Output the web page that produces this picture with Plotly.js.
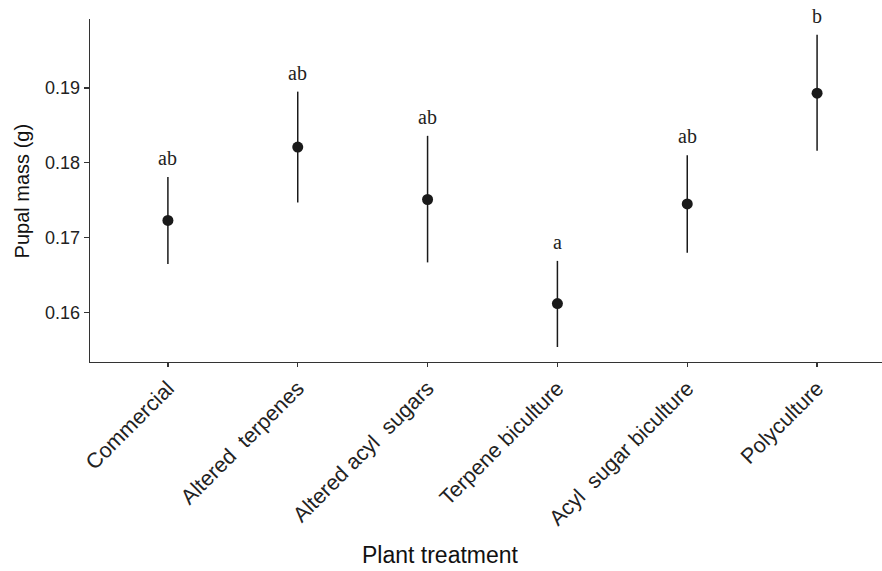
<!DOCTYPE html>
<html>
<head>
<meta charset="utf-8">
<script src="https://cdn.plot.ly/plotly-3.0.1.min.js"></script>
<style>html,body{margin:0;padding:0;background:#fff;}#chart{width:882px;height:571px;}</style>
</head>
<body>
<div id="chart"></div>
<script>
const categories = ["Commercial", "Altered  terpenes", "Altered acyl  sugars", "Terpene biculture", "Acyl  sugar biculture", "Polyculture"];
const means = [0.1723, 0.1821, 0.1751, 0.1612, 0.1745, 0.1893];
const upper = [0.1781, 0.1895, 0.1836, 0.1669, 0.1810, 0.1971];
const lower = [0.1665, 0.1747, 0.1667, 0.1554, 0.1680, 0.1816];
const letters = ["ab", "ab", "ab", "a", "ab", "b"];
const yTicks = [0.16, 0.17, 0.18, 0.19];
const xTitle = "Plant treatment";
const yTitle = "Pupal mass (g)";

const idx = categories.map((c, i) => i);
const trace = {
  type: "scatter",
  mode: "markers",
  x: idx,
  y: means,
  marker: {color: "#1a1a1a", size: 11},
  error_y: {
    type: "data",
    symmetric: false,
    array: upper.map((u, i) => u - means[i]),
    arrayminus: lower.map((l, i) => means[i] - l),
    color: "#1a1a1a",
    thickness: 1.5,
    width: 0
  },
  hoverinfo: "skip"
};

const annotations = letters.map((t, i) => ({
  x: idx[i], y: upper[i], xref: "x", yref: "y",
  text: t, showarrow: false, yanchor: "bottom", yshift: 6,
  font: {family: "Liberation Serif, Times New Roman, serif", size: 20, color: "#222"}
}));
annotations.push({
  x: 0.442, y: -0.52, xref: "paper", yref: "paper",
  text: xTitle, showarrow: false, xanchor: "center", yanchor: "top",
  font: {family: "Liberation Sans, Arial, sans-serif", size: 23, color: "#111"}
});
annotations.push({
  x: -0.086, y: 0.5, xref: "paper", yref: "paper",
  text: yTitle, showarrow: false, xanchor: "center", yanchor: "middle", textangle: -90,
  font: {family: "Liberation Sans, Arial, sans-serif", size: 20, color: "#111"}
});

const layout = {
  width: 882, height: 571,
  margin: {l: 90, r: 0, t: 19, b: 209, pad: 0},
  paper_bgcolor: "#fff", plot_bgcolor: "#fff",
  showlegend: false,
  xaxis: {
    range: [-0.6, 5.5],
    tickmode: "array", tickvals: idx, ticktext: categories,
    tickangle: -45,
    showgrid: false, zeroline: false,
    showline: true, linecolor: "#333", linewidth: 1.3,
    ticks: "outside", ticklen: 4, tickcolor: "#333", tickwidth: 1.2,
    tickfont: {family: "Liberation Sans, Arial, sans-serif", size: 21.5, color: "#222"}
  },
  yaxis: {
    range: [0.1534, 0.1992],
    tickmode: "array", tickvals: yTicks, ticktext: yTicks.map(v => v.toFixed(2)),
    showgrid: false, zeroline: false,
    showline: true, linecolor: "#333", linewidth: 1.3,
    ticks: "outside", ticklen: 5, tickcolor: "#333", tickwidth: 1.2,
    tickfont: {family: "Liberation Sans, Arial, sans-serif", size: 18, color: "#222"}
  },
  annotations: annotations
};

Plotly.newPlot("chart", [trace], layout, {displayModeBar: false, staticPlot: true});
</script>
</body>
</html>
